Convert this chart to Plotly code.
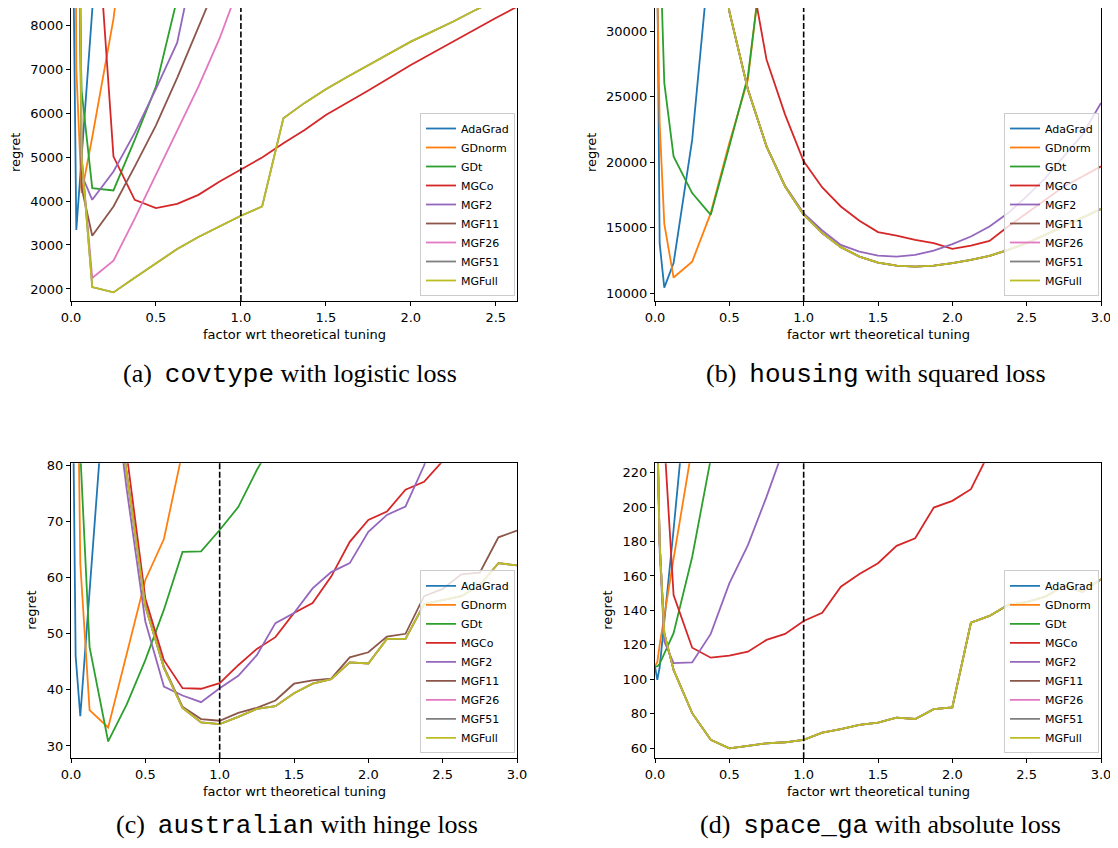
import plotly.graph_objects as go

N = None
# the page body has an 8px margin, so the figure is drawn 8px in from the window corner
OFF = 8
W, H = 1118 - 2 * OFF, 848 - 2 * OFF

# common grid of tuning factors
X = [0, 0.015625, 0.03125, 0.0625, 0.125,
     0.25, 0.375, 0.5, 0.625, 0.75, 0.875, 1.0,
     1.125, 1.25, 1.375, 1.5, 1.625, 1.75, 1.875, 2.0,
     2.125, 2.25, 2.375, 2.5, 2.625, 2.75, 2.875, 3.0]

NAMES = ["AdaGrad", "GDnorm", "GDt", "MGCo", "MGF2", "MGF11", "MGF26", "MGF51", "MGFull"]
COLORS = ["#1f77b4", "#ff7f0e", "#2ca02c", "#d62728", "#9467bd",
          "#8c564b", "#e377c2", "#7f7f7f", "#bcbd22"]

# ---------------- (a) covtype, logistic loss ----------------
ADA_A = [N, 8800, 3340, 5000, 8300, 15000, N, N, N, N, N, N, N, N, N, N, N, N, N, N, N, N, N, N, N, N, N, N]
GDN_A = [N, 20000, 7000, 4180, 5450, 8140, 12000, N, N, N, N, N, N, N, N, N, N, N, N, N, N, N, N, N, N, N, N, N]
GDT_A = [N, N, 12000, 6500, 4293, 4240, 5390, 6600, 8600, N, N, N, N, N, N, N, N, N, N, N, N, N, N, N, N, N, N, N]
MGCO_A = [N, N, N, N, 12000, 5010, 4027, 3839, 3937, 4140, 4443, 4724,
          4990, 5314, 5616, 5957, 6230, 6510, 6800, 7092,
          7360, 7630, 7900, 8160, 8415, 8680, N, N]
MGF2_A = [N, N, 19000, 4600, 4027, 4670, 5550, 6550, 7600, 9900, N, N, N, N, N, N, N, N, N, N, N, N, N, N, N, N, N, N]
MGF11_A = [N, N, 19000, 4300, 3210, 3875, 4780, 5720, 6800, 7950, 9100, N, N, N, N, N, N, N, N, N, N, N, N, N, N, N, N, N]
MGF26_A = [N, N, 19000, 5000, 2250, 2642, 3600, 4600, 5600, 6600, 7700, 9000, N, N, N, N, N, N, N, N, N, N, N, N, N, N, N, N]
MGF51_A = [N, N, 19000, 5000, 2045, 1923, 2257, 2590, 2908, 3181, 3421, 3664,
           3876, 5882, 6230, 6540, 6820, 7090, 7360, 7622,
           7850, 8080, 8330, 8560, N, N, N, N]
MGFULL_A = [N, N, 19000, 5000, 2045, 1923, 2257, 2590, 2908, 3181, 3421, 3664,
            3876, 5882, 6230, 6540, 6820, 7090, 7360, 7622,
            7850, 8080, 8330, 8560, N, N, N, N]

# ---------------- (b) housing, squared loss ----------------
ADA_B = [N, 35000, 13800, 10430, 12300, 21700, 36700, N, N, N, N, N, N, N, N, N, N, N, N, N, N, N, N, N, N, N, N, N]
GDN_B = [N, 33000, 23000, 15300, 11200, 12416, 16116, 21468, 26307, 38400, N, N, N, N, N, N, N, N, N, N, N, N, N, N, N, N, N, N]
GDT_B = [N, 45000, 37600, 26055, 20444, 17645, 15986, 21208, 26560, 38000, N, N, N, N, N, N, N, N, N, N, N, N, N, N, N, N, N, N]
MGCO_B = [N, N, N, N, N, N, N, N, 35700, 27836, 23632, 20061,
          18073, 16621, 15528, 14664, 14404, 14075, 13823, 13387,
          13640, 14000, 15092, 16116, 17133, 18150, 18914, 19679]
MGF2_B = [N, N, N, N, N, N, 45000, 31500, 25543, 21208, 18200, 16100,
          14790, 13693, 13180, 12875, 12798, 12928, 13257, 13746,
          14327, 15092, 16116, 17385, 18792, 20443, 22102, 24526]
MGF11_B = [N, N, N, N, N, N, 45000, 31500, 25543, 21208, 18150, 15986,
           14587, 13517, 12798, 12339, 12110, 12034, 12110, 12294,
           12546, 12852, 13310, 13823, 14450, 15092, 15734, 16422]
MGF26_B = MGF11_B
MGF51_B = MGF11_B
MGFULL_B = [N, N, N, N, N, N, 45000, 31500, 25543, 21208, 18150, 15986,
            14587, 13517, 12798, 12339, 12110, 12034, 12110, 12294,
            12546, 12852, 13310, 13823, 14450, 15092, 15734, 16422]

# ---------------- (c) australian, hinge loss ----------------
ADA_C = [150, 86, 46, 35.3, 57.6, 102, N, N, N, N, N, N, N, N, N, N, N, N, N, N, N, N, N, N, N, N, N, N]
GDN_C = [N, 200, 128, 62.5, 36.4, 33.3, 46.7, 59.6, 66.9, 82.5, N, N, N, N, N, N, N, N, N, N, N, N, N, N, N, N, N, N]
GDT_C = [N, N, 120, 82.4, 47.6, 30.8, 37.4, 45.3, 54.3, 64.6, 64.7, 68.5,
         72.6, 79.2, 85, N, N, N, N, N, N, N, N, N, N, N, N, N]
MGCO_C = [N, N, N, N, N, N, 82, 56.3, 45.3, 40.3, 40.2, 41.2,
          44.4, 47.3, 49.4, 53.7, 55.5, 60.2, 66.4, 70.3,
          71.8, 75.7, 77.1, 80.8, 84, N, N, N]
MGF2_C = [N, N, N, N, N, 102, 75.7, 52.2, 40.6, 39.0, 37.8, 40.3,
          42.5, 46.2, 51.9, 53.7, 58.1, 61.0, 62.6, 68.2,
          71.2, 72.7, 80.0, 90, N, N, N, N]
MGF11_C = [N, N, N, N, N, 102, 78.5, 55.2, 44.1, 37.0, 34.8, 34.5,
           35.9, 36.8, 38.1, 41.1, 41.7, 42.0, 45.8, 46.7,
           49.5, 50.0, 56.7, 58.0, 60.6, 60.9, 67.2, 68.4]
MGFULL_C = [N, N, N, N, N, 102, 78.3, 54.9, 43.9, 36.8, 34.2, 33.9,
            35.2, 36.6, 37.1, 39.4, 41.1, 41.9, 44.9, 44.7,
            49.1, 49.1, 55.3, 56.0, 56.7, 58.7, 62.6, 62.2]
MGF26_C = MGFULL_C
MGF51_C = MGFULL_C

# ---------------- (d) space_ga, absolute loss ----------------
ADA_D = [107.4, 99.7, 107, 133, 187, 300, N, N, N, N, N, N, N, N, N, N, N, N, N, N, N, N, N, N, N, N, N, N]
GDN_D = [108, 110, 120, 137, 170, 235, N, N, N, N, N, N, N, N, N, N, N, N, N, N, N, N, N, N, N, N, N, N]
GDT_D = [107.5, 107.5, 109, 115, 126.8, 171, 228, N, N, N, N, N, N, N, N, N, N, N, N, N, N, N, N, N, N, N, N, N]
MGCO_D = [N, N, 300, 239, 149, 118.4, 112.6, 113.8, 116.1, 122.9, 126.4, 133.9,
          138.7, 153.8, 161.2, 167.4, 177.5, 181.9, 199.7, 203.6,
          210.4, 232, N, N, N, N, N, N]
MGF2_D = [N, 240, 175, 122, 109.4, 109.8, 126.4, 155.7, 177.9, 205.9, 236, N,
          N, N, N, N, N, N, N, N, N, N, N, N, N, N, N, N]
MGFULL_D = [400, 246, 179, 126.8, 105.5, 80.4, 64.9, 60.0, 61.4, 62.9, 63.5, 64.9,
            69.1, 71.1, 73.6, 74.9, 77.8, 77.0, 82.7, 83.8,
            132.9, 136.8, 143.2, 144.8, 148.0, 154.2, 150.9, 158.1]
MGF11_D = MGFULL_D
MGF26_D = MGFULL_D
MGF51_D = MGFULL_D

PANELS = [
    dict(series=[ADA_A, GDN_A, GDT_A, MGCO_A, MGF2_A, MGF11_A, MGF26_A, MGF51_A, MGFULL_A],
         xr=[0, 2.625], yr=[1727, 8455], yt=[2000, 3000, 4000, 5000, 6000, 7000, 8000],
         xt=[0, 0.5, 1.0, 1.5, 2.0, 2.5],
         px=(71, 517), py=(5, 301), ytitle_x=15,
         cap='(a)\u2002<span style="font-family:Liberation Mono">covtype</span> with logistic loss',
         cap_xy=(290, 375)),
    dict(series=[ADA_B, GDN_B, GDT_B, MGCO_B, MGF2_B, MGF11_B, MGF26_B, MGF51_B, MGFULL_B],
         xr=[0, 3], yr=[9411, 31990], yt=[10000, 15000, 20000, 25000, 30000],
         xt=[0, 0.5, 1.0, 1.5, 2.0, 2.5, 3.0],
         px=(655, 1101), py=(5, 301), ytitle_x=591,
         cap='(b)\u2002<span style="font-family:Liberation Mono">housing</span> with squared loss',
         cap_xy=(876, 375)),
    dict(series=[ADA_C, GDN_C, GDT_C, MGCO_C, MGF2_C, MGF11_C, MGF26_C, MGF51_C, MGFULL_C],
         xr=[0, 3], yr=[27.8, 80.4], yt=[30, 40, 50, 60, 70, 80],
         xt=[0, 0.5, 1.0, 1.5, 2.0, 2.5, 3.0],
         px=(71, 517), py=(463.3, 758.3), ytitle_x=32,
         cap='(c)\u2002<span style="font-family:Liberation Mono">australian</span> with hinge loss',
         cap_xy=(297, 825)),
    dict(series=[ADA_D, GDN_D, GDT_D, MGCO_D, MGF2_D, MGF11_D, MGF26_D, MGF51_D, MGFULL_D],
         xr=[0, 3], yr=[54.2, 225.4], yt=[60, 80, 100, 120, 140, 160, 180, 200, 220],
         xt=[0, 0.5, 1.0, 1.5, 2.0, 2.5, 3.0],
         px=(655, 1101), py=(463.3, 758.3), ytitle_x=608,
         cap='(d)\u2002<span style="font-family:Liberation Mono">space_ga</span> with absolute loss',
         cap_xy=(880, 825)),
]


def fx(px):
    return (px - OFF) / W


def fy(py):
    return 1 - (py - OFF) / H


fig = go.Figure()
layout = dict(
    width=W, height=H, template="none",
    margin=dict(l=0, r=0, t=0, b=0),
    paper_bgcolor="white", plot_bgcolor="white",
    font=dict(family="DejaVu Sans", size=13, color="black"),
    showlegend=True, shapes=[], annotations=[],
)

axis_common = dict(showline=True, mirror=True, linecolor="black", linewidth=1,
                   ticks="outside", ticklen=4, tickwidth=1, tickcolor="black",
                   showgrid=False, zeroline=False, ticklabeloverflow="allow",
                   tickfont=dict(family="DejaVu Sans", size=13, color="black"))

for i, p in enumerate(PANELS):
    k = "" if i == 0 else str(i + 1)
    xa, ya = "x" + k, "y" + k
    lg = "legend" + k
    for name, color, ys in zip(NAMES, COLORS, p["series"]):
        fig.add_trace(go.Scatter(x=X, y=ys, mode="lines", name=name,
                                 line=dict(color=color, width=1.8),
                                 xaxis=xa, yaxis=ya, legend=lg))
    x0, x1 = p["px"]
    y0, y1 = p["py"]
    # the page margin hides the top few pixels: trim the axis so the scale is unchanged
    ylo, yhi = p["yr"]
    top = max(y0, OFF)
    yhi = yhi - (top - y0) * (yhi - ylo) / (y1 - y0)
    layout["xaxis" + k] = dict(axis_common, domain=[fx(x0), fx(x1)], anchor=ya,
                               range=p["xr"], tickvals=p["xt"],
                               ticktext=["%.1f" % v for v in p["xt"]])
    layout["yaxis" + k] = dict(axis_common, domain=[fy(y1), fy(top)], anchor=xa,
                               range=[ylo, yhi], tickvals=p["yt"],
                               ticktext=[str(v) for v in p["yt"]])
    layout[lg] = dict(x=fx(x1 - 2), y=fy(y1 - 5), xanchor="right", yanchor="bottom",
                      bgcolor="rgba(255,255,255,0.8)", bordercolor="#cccccc", borderwidth=1,
                      font=dict(family="DejaVu Sans", size=11, color="black"),
                      tracegroupgap=0, itemwidth=30)
    layout["shapes"].append(dict(type="line", xref=xa, yref=ya + " domain",
                                 x0=1, x1=1, y0=0, y1=1,
                                 line=dict(color="black", width=1.6, dash="6px,2.5px")))
    cx = (x0 + x1) / 2
    layout["annotations"].append(dict(text="factor wrt theoretical tuning", xref="paper", yref="paper",
                                      x=fx(cx), y=fy(y1 + 33), showarrow=False,
                                      xanchor="center", yanchor="middle",
                                      font=dict(family="DejaVu Sans", size=13, color="black")))
    layout["annotations"].append(dict(text="regret", xref="paper", yref="paper",
                                      x=fx(p["ytitle_x"]), y=fy((y0 + y1) / 2),
                                      showarrow=False, textangle=-90,
                                      xanchor="center", yanchor="middle",
                                      font=dict(family="DejaVu Sans", size=13, color="black")))
    layout["annotations"].append(dict(text=p["cap"], xref="paper", yref="paper",
                                      x=fx(p["cap_xy"][0]), y=fy(p["cap_xy"][1]),
                                      showarrow=False, xanchor="center", yanchor="middle",
                                      font=dict(family="Liberation Serif", size=26, color="black")))

fig.update_layout(**layout)
fig.write_html("out.html")
